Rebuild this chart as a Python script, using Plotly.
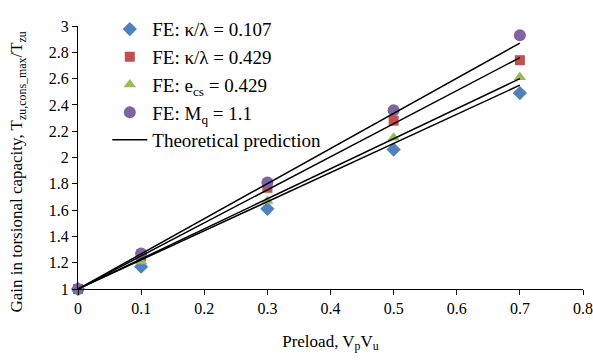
import plotly.graph_objects as go

# Preload ratio V_p/V_u
preload = [0, 0.1, 0.3, 0.5, 0.7]

# Finite-element gain in torsional capacity for each case
fe_kappa_0107 = [1.00, 1.17, 1.61, 2.06, 2.49]
fe_kappa_0429 = [1.00, 1.25, 1.77, 2.28, 2.74]
fe_ecs_0429 = [1.00, 1.21, 1.67, 2.15, 2.61]
fe_mq_11 = [1.00, 1.27, 1.81, 2.36, 2.93]

# Theoretical prediction lines (start and end of each straight line)
theory_x = [0, 0.7]
theory_lines = [
    [1.00, 2.87],
    [1.00, 2.76],
    [1.00, 2.60],
    [1.00, 2.55],
]

series = [
    ("FE: κ/λ = 0.107", fe_kappa_0107, "diamond", "#4F81BD", 11),
    ("FE: κ/λ = 0.429", fe_kappa_0429, "square", "#C0504D", 10),
    ("FE: e<sub>cs</sub> = 0.429", fe_ecs_0429, "triangle-up", "#9BBB59", 11),
    ("FE: M<sub>q</sub> = 1.1", fe_mq_11, "circle", "#8064A2", 12),
]

FONT = "Liberation Serif"

fig = go.Figure()

for i, (name, ys, sym, col, sz) in enumerate(series):
    fig.add_trace(go.Scatter(
        x=preload, y=ys, mode="markers", name=name,
        marker=dict(symbol=sym, color=col, size=sz, line=dict(width=0)),
        cliponaxis=False,
    ))

for j, ys in enumerate(theory_lines):
    fig.add_trace(go.Scatter(
        x=theory_x, y=ys, mode="lines", name="Theoretical prediction",
        showlegend=(j == 0),
        line=dict(color="black", width=1.5),
        cliponaxis=False,
    ))

fig.update_layout(
    width=593, height=362,
    margin=dict(l=78, r=10, t=18, b=73),
    paper_bgcolor="white", plot_bgcolor="white",
    font=dict(family=FONT, size=16, color="black"),
    showlegend=True,
    legend=dict(
        x=0.058, y=1.06, xanchor="left", yanchor="top",
        bgcolor="rgba(0,0,0,0)",
        font=dict(family=FONT, size=19, color="black"),
        traceorder="normal",
        itemwidth=35,
    ),
    xaxis=dict(
        range=[0, 0.8], tickvals=[0, 0.1, 0.2, 0.3, 0.4, 0.5, 0.6, 0.7, 0.8],
        ticktext=["0", "0.1", "0.2", "0.3", "0.4", "0.5", "0.6", "0.7", "0.8"],
        automargin=False,
        showgrid=False, zeroline=False,
        showline=True, linecolor="black", linewidth=1,
        ticks="outside", ticklen=5, tickcolor="black",
        tickfont=dict(family=FONT, size=16),
        title=dict(text="Preload, V<sub>p</sub>V<sub>u</sub>",
                   font=dict(family=FONT, size=17), standoff=18),
    ),
    yaxis=dict(
        range=[1, 3], tickvals=[1, 1.2, 1.4, 1.6, 1.8, 2, 2.2, 2.4, 2.6, 2.8, 3],
        ticktext=["1", "1.2", "1.4", "1.6", "1.8", "2", "2.2", "2.4", "2.6", "2.8", "3"],
        automargin=False,
        showgrid=False, zeroline=False,
        showline=True, linecolor="black", linewidth=1,
        ticks="outside", ticklen=5, tickcolor="black",
        tickfont=dict(family=FONT, size=16),
    ),
    annotations=[dict(
        text="Gain in torsional capacity, T<sub>zu,cons_max</sub>/T<sub>zu</sub>",
        xref="paper", yref="paper", x=-0.119, y=0.446,
        xanchor="center", yanchor="middle", textangle=-90, showarrow=False,
        font=dict(family=FONT, size=17, color="black"),
    )],
)

fig.write_html("out.html")
